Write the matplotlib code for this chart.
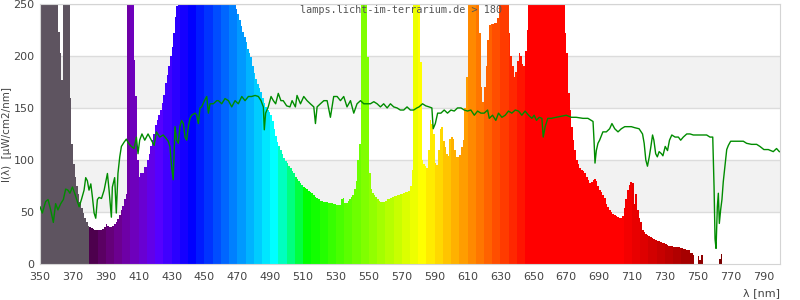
import matplotlib
matplotlib.use("Agg")
import matplotlib.pyplot as plt

# spectrum, one value per nm starting at 350 nm (values above 250 are clipped in the chart, estimated)
spec_start = 350
spectrum = [
    330, 350, 370, 390, 400, 400, 390, 370, 340, 310,   # 350
    270, 223, 203, 177, 290, 480, 420, 290, 160, 115,   # 360
    96, 84, 75, 67, 60, 54, 49, 44, 40, 37,             # 370
    36, 35, 34, 33, 33, 33, 33, 33, 34, 36,             # 380
    38, 37, 36, 36, 37, 38, 40, 43, 47, 52,             # 390
    56, 62, 67, 300, 520, 600, 300, 196, 161, 100,      # 400
    84, 87, 87, 93, 93, 100, 106, 113, 119, 125,        # 410
    134, 138, 143, 148, 155, 162, 174, 182, 190, 200,   # 420
    209, 222, 237, 248, 260, 280, 420, 330, 300, 310,   # 430
    320, 330, 335, 340, 345, 345, 345, 340, 340, 335,   # 440
    335, 330, 330, 325, 320, 320, 315, 310, 305, 300,   # 450
    295, 290, 285, 280, 275, 270, 265, 260, 255, 245,   # 460
    240, 235, 229, 223, 218, 213, 207, 203, 199, 190,   # 470
    184, 178, 173, 169, 165, 160, 155, 151, 148, 146,   # 480
    143, 137, 130, 123, 117, 113, 110, 106, 102, 99,    # 490
    97, 94, 92, 89, 87, 84, 82, 80, 78, 76,             # 500
    74, 73, 72, 70, 69, 68, 66, 64, 63, 62,             # 510
    61, 61, 60, 60, 60, 59, 59, 59, 58, 58,             # 520
    57, 57, 57, 62, 63, 59, 59, 61, 62, 64,             # 530
    66, 72, 80, 100, 115, 300, 520, 480, 280, 199,      # 540
    87, 72, 68, 66, 64, 62, 61, 60, 60, 60,             # 550
    61, 62, 62, 63, 64, 65, 65, 66, 66, 67,             # 560
    67, 68, 69, 69, 70, 75, 90, 300, 450, 400,          # 570
    280, 194, 100, 96, 94, 92, 110, 138, 135, 125,      # 580
    97, 95, 110, 130, 132, 118, 112, 106, 104, 120,     # 590
    122, 120, 110, 103, 103, 105, 112, 119, 150, 180,   # 600
    260, 300, 330, 330, 310, 290, 270, 222, 170, 156,   # 610
    170, 190, 215, 230, 231, 231, 232, 232, 236, 260,   # 620
    300, 330, 330, 300, 270, 222, 200, 190, 180, 185,   # 630
    195, 203, 200, 192, 190, 205, 225, 250, 280, 310,   # 640
    340, 360, 380, 390, 400, 400, 400, 390, 380, 370,   # 650
    360, 350, 340, 320, 300, 290, 280, 270, 260, 222,   # 660
    203, 164, 148, 132, 119, 110, 100, 96, 92, 90,      # 670
    89, 87, 84, 81, 78, 79, 81, 82, 80, 75,             # 680
    71, 69, 66, 63, 58, 55, 52, 50, 48, 47,             # 690
    46, 45, 44, 44, 46, 54, 62, 71, 76, 79,             # 700
    78, 58, 67, 52, 44, 40, 33, 31, 29, 28,             # 710
    27, 26, 25, 24, 23, 22, 22, 21, 20, 20,             # 720
    19, 18, 17, 17, 17, 16, 16, 16, 16, 15,             # 730
    15, 14, 14, 13, 13, 11, 11, 9, 0, 0,                # 740
    8, 4, 9, 0, 0, 0, 0, 0, 0, 0,                       # 750
    0, 0, 0, 5, 10,                                     # 760
]

# green reference curve
line_nm = [
    350, 351.4, 353.4, 354.9, 356.5, 358.1, 359.5, 360.9, 362.6, 364.2, 365.6, 367, 368.2, 369.7,
    371.1, 372.3, 373.8, 375.2, 376.8, 377.8, 378.8, 379.8, 380.9, 381.9, 382.9, 383.9, 384.9,
    385.9, 387.4, 389, 390, 391, 392, 393.4, 394, 395.4, 396.4, 397.4, 398.5, 399.5, 401.1, 402.5,
    403.9, 405.5, 407.2, 408.6, 409.6, 410.6, 412, 413.7, 415.7, 417.7, 419.4, 420.8, 422.8, 424.9,
    426, 428, 429, 430, 431, 432.1, 433.1, 434.1, 435.1, 436.1, 437.2, 438.2, 439.2, 440.2, 441.2,
    442.2, 444.3, 445.3, 446.3, 447.3, 448.3, 450, 451.4, 452.4, 453.4, 455.4, 457.5, 458.5, 460.5,
    462.5, 464.6, 466.6, 468.6, 470.6, 472.7, 474.7, 476.7, 478.7, 480.8, 482.8, 484.4, 485.8,
    486.4, 487.2, 488.8, 490.5, 491.9, 493.3, 494.9, 496.5, 497.9, 500, 502,
    503.3, 505.3, 506.3, 508.4, 510.4, 512.4, 514.4, 516.5, 517.5, 518.5, 520.5, 522.6, 524.6,
    526.6, 528.6, 530.7, 532.7, 534.7, 536.7, 538.8, 540.8, 542.8, 544.9, 546.9, 548.9, 550.9,
    553, 555, 557, 559, 561.1, 563.1, 565.1, 567.1, 569.1, 571.2, 573.2, 575.2, 577.2, 579.2,
    580.5, 582.6, 584.6, 586.6, 588.3, 589.1, 590.4, 591.8, 593.8, 595.8, 597.8, 599.9, 601.9,
    603.9, 606, 608, 610, 612, 614.1, 616.1, 618.1, 620.1, 622.2, 623.2, 625.2, 627.2, 628.8,
    630.9, 632.9, 634.9, 636.9, 639, 641, 643, 645, 647.1, 649.1, 650.5, 651.9, 653.6, 655.2,
    656, 657.2,
    658.8, 660.9, 663.9, 667, 670, 673.1, 676.1, 680.2, 683.2, 685.2, 686.3, 686.9, 687.5, 688.3,
    689.3, 690.3, 692.3, 694.4, 696.4, 697.8, 699.5, 701.5, 703.5, 705.6, 707.6, 709.6, 711.7,
    714.3, 716.4, 717.4, 718.4, 719.4, 720.5, 721.5, 722.5, 723.3, 724.4, 725.4, 726.5,
    727.9, 728.8, 730.2, 731.6, 732.8, 734.2, 736.2, 738.2, 739.6, 741.2, 743.3, 745.3, 747.3,
    749.3, 751.4, 753.4, 755.4, 757.4, 759.1, 759.9, 760.5, 761.1, 761.9, 762.5, 763.1, 763.9,
    764.7, 765.5, 766.5, 767.6, 768.6, 770, 771.6, 774.6, 777.7, 779.7, 782.7, 785.8, 787.8,
    790.2, 792.9, 795.9, 797.9, 799.6,
]
line_val = [
    55, 49, 60, 62, 52, 40, 58, 52, 58, 62, 72, 71, 68, 74,
    68, 62, 55, 62, 71, 83, 80, 71, 77, 64, 49, 44, 62,
    64, 63, 71, 79, 87, 71, 45, 74, 83, 49, 87, 103, 113, 117, 120,
    116, 113, 111, 122, 106, 119, 125, 119, 125, 119, 114, 127, 122, 124,
    122, 118, 113, 94, 81, 132, 119, 116, 132, 138, 135, 122, 119, 132, 140,
    143, 145, 143, 135, 150, 151, 157, 161, 145, 154, 154, 157, 157, 154,
    159, 157, 151, 157, 154, 161, 157, 161, 161, 162, 161, 157, 151,
    129, 145, 151, 161, 157, 154, 164, 157, 157, 152, 151,
    157, 151, 162, 154, 161, 157, 154, 151, 135, 151, 154, 157, 157,
    141, 161, 161, 157, 161, 151, 157, 145, 154, 157, 154, 154, 154,
    156, 154, 151, 154, 150, 154, 151, 150, 148, 148, 151, 148, 148, 150,
    151, 154, 152, 151, 150, 130, 135, 145, 145, 148, 145, 148, 147,
    150, 150, 148, 147, 148, 143, 147, 145, 145, 148, 140, 143, 138, 145,
    141, 143, 147, 145, 148, 147, 143, 147, 143, 140, 143, 138, 141, 140,
    122, 132,
    140, 140, 141, 142, 143, 141, 141, 140, 140, 138, 137, 119, 97, 109,
    116, 119, 127, 127, 130, 135, 130, 127, 130, 132, 132, 132, 131,
    130, 125, 116, 100, 94, 103, 113, 124, 119, 106, 103, 108,
    106, 104, 113, 109, 119, 124, 122, 122, 119, 122, 125, 125, 124,
    124, 124, 124, 124, 122, 122, 74, 24, 15, 55, 68, 39, 52,
    62, 79, 94, 110, 114, 118, 118, 118, 118, 116, 115, 115, 113,
    110, 110, 108, 111, 108,
]

x_ticks = list(range(350, 800, 20))
y_ticks = [0, 50, 100, 150, 200, 250]


def wl_color(wl):
    # colour of a wavelength, in 5 nm steps
    if wl < 380:
        return "#5e5460"
    w = (wl // 5) * 5
    if w < 440:
        r, g, b = -(w - 440) / 60, 0.0, 1.0
    elif w < 490:
        r, g, b = 0.0, (w - 440) / 50, 1.0
    elif w < 510:
        r, g, b = 0.0, 1.0, -(w - 510) / 20
    elif w < 580:
        r, g, b = (w - 510) / 70, 1.0, 0.0
    elif w < 645:
        r, g, b = 1.0, -(w - 645) / 65, 0.0
    else:
        r, g, b = 1.0, 0.0, 0.0
    if w < 420:
        f = 0.3 + 0.7 * (w - 380) / 40
    elif w > 700:
        f = 0.3 + 0.7 * (780 - w) / 80
    else:
        f = 1.0
    return (r * f, g * f, b * f)


wavelengths = [spec_start + i for i in range(len(spectrum))]
colors = [wl_color(w) for w in wavelengths]

fig = plt.figure(figsize=(8, 3), dpi=100)
ax = fig.add_axes([0.05, 0.12, 0.925, 0.867])

for lo in (50, 150):
    ax.axhspan(lo, lo + 50, color="#f2f2f2", zorder=0, lw=0)
for y in y_ticks[1:]:
    ax.axhline(y, color="#dcdcdc", lw=1, zorder=1)

ax.bar(wavelengths, spectrum, width=1.0, align="edge", color=colors,
       linewidth=0, antialiased=False, zorder=2)
ax.plot(line_nm, line_val, color="#008c00", lw=1, zorder=3)

ax.set_xlim(350, 800)
ax.set_ylim(0, 250)
ax.set_xticks(x_ticks)
ax.set_yticks(y_ticks)
ax.tick_params(axis="x", length=0, labelsize=8, colors="#444444", pad=6)
ax.tick_params(axis="y", length=0, labelsize=8, colors="#444444", pad=4)
for s in ax.spines.values():
    s.set_color("#d4d4d4")

fig.text(0.009, 0.55, "I(λ)  [µW/cm2/nm]", rotation=90, ha="center", va="center",
         fontsize=7.5, color="#444444")
ax.set_xlabel("λ [nm]", fontsize=8, color="#444444", loc="right", labelpad=4)
ax.text(0.488, 0.975, "lamps.licht-im-terrarium.de > 180", transform=ax.transAxes,
        ha="center", va="center", family="DejaVu Sans Mono", fontsize=7.3,
        color="#555555", zorder=5)

fig.savefig("out.png", dpi=100)
